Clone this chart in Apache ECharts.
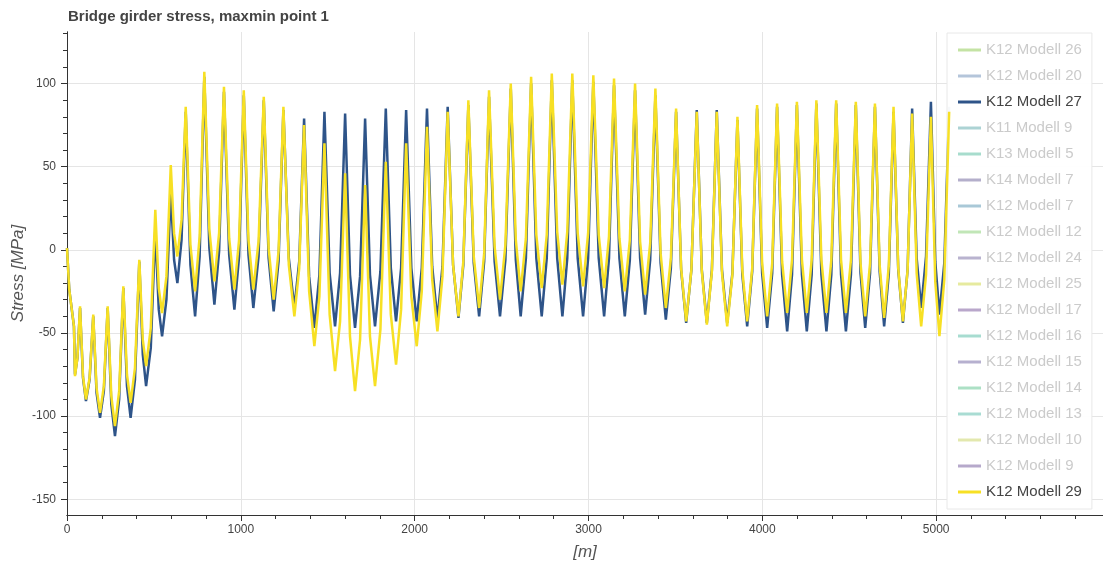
<!DOCTYPE html>
<html>
<head>
<meta charset="utf-8">
<script src="https://cdn.jsdelivr.net/npm/echarts@6/dist/echarts.min.js"></script>
<style>
  html, body { margin: 0; padding: 0; background: #ffffff; }
  #chart { width: 1103px; height: 565px; }
</style>
</head>
<body>
<div id="chart"></div>
<script>
// Stations along the girder [m]
const stations = [
  0, 13, 40, 46, 60, 75, 92, 109, 130, 151, 170, 190, 212, 234, 255, 276, 300, 324, 345, 366,
  391, 416, 436, 455, 482, 508, 528, 547, 572, 597, 616, 635, 659, 683, 710, 737, 763, 790, 819, 848,
  875, 903, 933, 963, 990, 1017, 1044, 1072, 1102, 1132, 1160, 1189, 1217, 1245, 1276, 1308, 1336, 1364, 1393, 1423,
  1452, 1481, 1511, 1542, 1571, 1600, 1628, 1657, 1686, 1715, 1743, 1772, 1803, 1834, 1863, 1893, 1922, 1951, 1981, 2012,
  2041, 2071, 2101, 2131, 2160, 2190, 2221, 2252, 2280, 2309, 2340, 2371, 2400, 2428, 2460, 2491, 2522, 2553, 2582, 2610,
  2640, 2670, 2700, 2731, 2760, 2789, 2820, 2850, 2878, 2907, 2938, 2969, 2998, 3028, 3059, 3090, 3118, 3147, 3178, 3209,
  3238, 3268, 3297, 3326, 3355, 3385, 3415, 3445, 3474, 3504, 3533, 3562, 3592, 3623, 3652, 3681, 3710, 3738, 3768, 3798,
  3828, 3857, 3885, 3913, 3942, 3970, 3999, 4028, 4057, 4085, 4114, 4143, 4171, 4199, 4228, 4256, 4284, 4311, 4340, 4369,
  4397, 4425, 4453, 4481, 4510, 4538, 4565, 4592, 4620, 4648, 4675, 4701, 4728, 4755, 4782, 4809, 4836, 4862, 4888, 4914,
  4942, 4970, 4995, 5019, 5047, 5075
];

// Stress envelope [MPa], K12 Modell 27
const stressK12M27 = [
  1, -24, -46, -75, -65, -35, -77, -91, -78, -40, -86, -101, -85, -35, -93, -112, -90, -23, -82, -101,
  -78, -7, -63, -82, -59, 12, -36, -52, -30, 35, -6, -20, 6, 83, -9, -40, -4, 104, 1, -33,
  -1, 95, -3, -36, -4, 93, -3, -35, -4, 90, -5, -37, -7, 84, -5, -35, -7, 79, -16, -47,
  -15, 83, -14, -46, -14, 82, -15, -47, -16, 79, -15, -46, -13, 85, -11, -43, -11, 84, -11, -43,
  -11, 85, -10, -42, -10, 86, -9, -41, -9, 87, -8, -40, -7, 92, -7, -40, -6, 97, -6, -40,
  -5, 100, -5, -40, -5, 102, -5, -40, -5, 102, -5, -40, -5, 101, -5, -40, -5, 99, -5, -40,
  -6, 96, -5, -39, -6, 93, -8, -42, -11, 83, -12, -44, -12, 84, -12, -44, -12, 84, -12, -44,
  -14, 78, -15, -46, -13, 85, -14, -47, -14, 86, -15, -49, -15, 87, -15, -49, -15, 88, -15, -49,
  -15, 88, -15, -49, -15, 87, -14, -47, -14, 86, -13, -46, -14, 83, -12, -44, -12, 85, -5, -35,
  -4, 89, -7, -39, -8, 86
];

// Stress envelope [MPa], K12 Modell 29
const stressK12M29 = [
  1, -24, -46, -76, -65, -34, -76, -90, -77, -39, -83, -98, -82, -34, -88, -106, -85, -22, -75, -92,
  -71, -6, -54, -70, -47, 24, -23, -38, -16, 51, 10, -4, 18, 86, 3, -25, 8, 107, 12, -19,
  10, 98, 7, -24, 6, 96, 6, -24, 5, 92, 1, -30, -1, 86, -9, -40, -11, 75, -25, -58,
  -28, 64, -39, -73, -43, 46, -52, -85, -54, 39, -52, -82, -48, 53, -39, -69, -36, 64, -28, -58,
  -25, 74, -18, -49, -16, 83, -9, -40, -7, 90, -4, -35, -2, 96, 2, -30, 3, 100, 6, -25,
  7, 104, 9, -23, 9, 106, 11, -21, 11, 106, 10, -22, 10, 105, 9, -23, 8, 103, 7, -25,
  6, 100, 5, -27, 4, 97, -2, -35, -5, 85, -11, -43, -12, 83, -13, -45, -13, 83, -14, -46,
  -15, 80, -12, -43, -11, 87, -8, -40, -8, 88, -7, -38, -6, 89, -6, -38, -6, 90, -6, -38,
  -6, 90, -6, -38, -6, 89, -8, -40, -8, 88, -9, -41, -9, 86, -11, -43, -12, 82, -14, -46,
  -15, 80, -19, -52, -18, 83
];

// Legend entries in drawing order; only two models are switched on
const modelNames = [
  'K12 Modell 26', 'K12 Modell 20', 'K12 Modell 27', 'K11 Modell 9', 'K13 Modell 5', 'K14 Modell 7',
  'K12 Modell 7', 'K12 Modell 12', 'K12 Modell 24', 'K12 Modell 25', 'K12 Modell 17', 'K12 Modell 16',
  'K12 Modell 15', 'K12 Modell 14', 'K12 Modell 13', 'K12 Modell 10', 'K12 Modell 9', 'K12 Modell 29'
];
const modelColors = [
  '#c4e3a4', '#b4c5da', '#2e5489', '#acd3d4', '#a7dccd', '#b4afcb',
  '#a9c8d7', '#c1e6b7', '#b9b3cf', '#e6ea9f', '#b9a7cb', '#a7dcd0',
  '#b6b0cf', '#ace0c5', '#a9dcd3', '#e3e8ae', '#b6a9cb', '#f7e024'
];
const shownModels = {
  'K12 Modell 27': stressK12M27,
  'K12 Modell 29': stressK12M29
};

// Axis ticks and labels
const xMajorTicks = [0, 1000, 2000, 3000, 4000, 5000];
const xMinorTicks = [];
for (let v = 0; v <= 5800; v += 200) xMinorTicks.push(v);
const yMajorTicks = [-150, -100, -50, 0, 50, 100];
const yMinorTicks = [];
for (let v = -150; v <= 130; v += 10) yMinorTicks.push(v);

const X_MIN = 0, X_MAX = 5960;
const Y_MIN = -159.5, Y_MAX = 131;

const axisColor = '#333';
const labelColor = '#444';
const gridColor = '#e5e5e5';
const fontFamily = '"Liberation Sans", Arial, Helvetica, sans-serif';

function pairs(values) {
  return stations.map((s, i) => [s, values[i]]);
}

const series = modelNames.map((name, i) => {
  const values = shownModels[name];
  return {
    name: name,
    type: 'line',
    xAxisIndex: 0,
    yAxisIndex: 0,
    color: modelColors[i],
    data: values ? pairs(values) : [],
    showSymbol: false,
    symbol: 'none',
    lineStyle: { width: 2.5, color: modelColors[i] },
    z: values ? 3 + i : 2
  };
});

const plainNumber = v => String(v);

const chart = echarts.init(document.getElementById('chart'), null, { renderer: 'canvas' });

chart.setOption({
  animation: false,
  backgroundColor: '#ffffff',
  textStyle: { fontFamily: fontFamily },
  title: {
    text: 'Bridge girder stress, maxmin point 1',
    left: 68,
    top: 9,
    padding: 0,
    textStyle: { fontSize: 15, fontWeight: 'bold', color: '#444', fontFamily: fontFamily }
  },
  grid: { left: 67, right: 0, top: 32, bottom: 50, containLabel: false, outerBoundsMode: 'none' },
  xAxis: [
    {
      type: 'value', min: X_MIN, max: X_MAX, position: 'bottom', offset: 0,
      axisLine: { show: true, onZero: false, lineStyle: { color: axisColor, width: 1 } },
      axisTick: { show: true, customValues: xMinorTicks, length: 4, lineStyle: { color: axisColor } },
      axisLabel: { show: false },
      splitLine: { show: false }
    },
    {
      type: 'value', min: X_MIN, max: X_MAX, position: 'bottom', offset: 0,
      name: '[m]', nameLocation: 'middle', nameGap: 29, nameMoveOverlap: false,
      nameTextStyle: { fontSize: 17, fontStyle: 'italic', color: '#555', fontFamily: fontFamily },
      axisLine: { show: true, onZero: false, lineStyle: { color: axisColor, width: 1 } },
      axisTick: { show: true, customValues: xMajorTicks, length: 6, lineStyle: { color: axisColor } },
      axisLabel: { show: true, customValues: xMajorTicks, formatter: plainNumber, margin: 9, fontSize: 12, color: labelColor, fontFamily: fontFamily },
      splitLine: { show: true, lineStyle: { color: gridColor, width: 1 } }
    }
  ],
  yAxis: [
    {
      type: 'value', min: Y_MIN, max: Y_MAX, position: 'left', offset: 0,
      axisLine: { show: true, onZero: false, lineStyle: { color: axisColor, width: 1 } },
      axisTick: { show: true, customValues: yMinorTicks, length: 4, lineStyle: { color: axisColor } },
      axisLabel: { show: false },
      splitLine: { show: false }
    },
    {
      type: 'value', min: Y_MIN, max: Y_MAX, position: 'left', offset: 0,
      name: 'Stress [MPa]', nameLocation: 'middle', nameGap: 40, nameRotate: 90, nameMoveOverlap: false,
      nameTextStyle: { fontSize: 17, fontStyle: 'italic', color: '#555', fontFamily: fontFamily },
      axisLine: { show: true, onZero: false, lineStyle: { color: axisColor, width: 1 } },
      axisTick: { show: true, customValues: yMajorTicks, length: 6, lineStyle: { color: axisColor } },
      axisLabel: { show: true, customValues: yMajorTicks, formatter: plainNumber, margin: 11, fontSize: 12, color: labelColor, fontFamily: fontFamily },
      splitLine: { show: true, lineStyle: { color: gridColor, width: 1 } }
    }
  ],
  legend: {
    orient: 'vertical',
    left: 947,
    top: 33,
    padding: [9, 10, 9, 11],
    itemGap: 10,
    itemWidth: 23,
    itemHeight: 3,
    icon: 'rect',
    selectedMode: false,
    backgroundColor: 'rgba(255,255,255,0.96)',
    borderColor: '#e8e8e8',
    borderWidth: 1,
    borderRadius: 0,
    z: 10,
    textStyle: { fontSize: 15, lineHeight: 16, color: '#444', fontFamily: fontFamily },
    data: modelNames.map(name => ({
      name: name,
      textStyle: { color: shownModels[name] ? '#444' : '#cbcbcb' }
    }))
  },
  series: series
});
</script>
</body>
</html>
